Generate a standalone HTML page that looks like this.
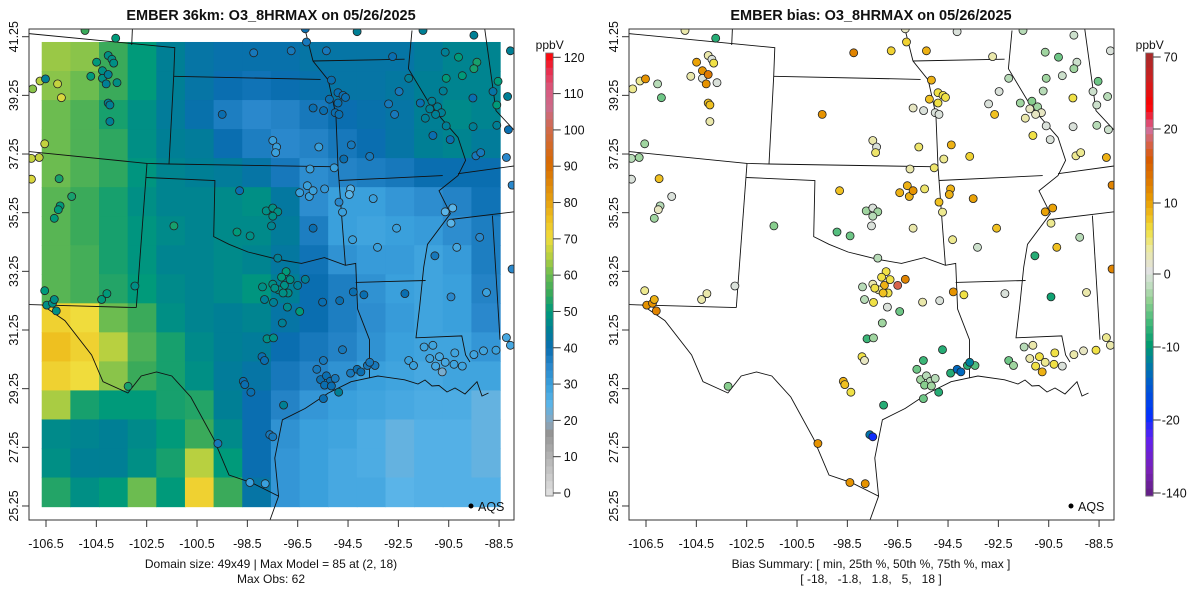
<!DOCTYPE html>
<html><head><meta charset="utf-8">
<style>
html,body{margin:0;padding:0;background:#fff;}
svg{display:block;font-family:"Liberation Sans",Arial,sans-serif;}
</style></head>
<body>
<svg id="chart" width="1200" height="600" viewBox="0 0 1200 600">
<defs>
<clipPath id="clipL"><rect x="29" y="29" width="485" height="491"/></clipPath>
<clipPath id="clipR"><rect x="629" y="29" width="485" height="491"/></clipPath>
</defs>
<g id="left"></g>
<g id="right"></g>
</svg>
<script>
// ---- data ----
const gridLonMin = -106.67, gridLonMax = -88.46, gridLatMin = 25.23, gridLatMax = 41.07;
const gridValues = [
[63,62,55,50,45,42,41,41,41,42,42,42,42,44,46,46],
[62,60,55,50,45,42,40,39,40,41,42,42,43,45,46,46],
[60,57,52,48,44,41,37,35,36,38,40,41,42,45,47,46],
[60,57,54,48,45,44,40,37,35,36,38,40,42,45,46,44],
[60,57,54,49,46,45,44,42,38,34,36,37,38,40,40,40],
[58,55,52,48,46,46,47,48,43,34,30,30,32,34,36,39],
[58,55,52,49,47,46,47,47,44,37,30,29,30,31,34,37],
[58,56,52,49,46,46,47,46,43,39,33,31,31,29,31,37],
[58,56,53,50,47,46,47,49,45,40,37,33,30,29,30,36],
[72,70,60,55,48,46,45,46,42,40,37,34,31,29,30,35],
[75,72,65,57,52,47,45,44,40,38,36,33,30,29,29,32],
[72,70,62,55,52,48,44,42,38,36,33,30,29,28,29,29],
[64,52,50,50,52,53,45,40,36,32,30,29,28,27,27,24],
[47,46,45,47,50,55,47,40,33,30,29,27,24,26,26,24],
[48,45,45,48,52,65,50,40,32,30,28,27,24,26,26,24],
[53,48,50,60,50,72,55,42,32,30,28,28,25,26,26,26]
];
const stationLon = [-104.95,-103.73,-96.20,-94.14,-91.52,-89.50,-98.25,-96.76,-96.15,-95.36,-92.73,-90.64,-90.11,-89.38,-89.50,-90.60,-89.96,-92.09,-88.54,-88.74,-90.72,-89.54,-88.59,-88.16,-92.47,-92.89,-92.65,-91.63,-91.17,-90.94,-90.79,-91.25,-91.02,-91.43,-91.13,-90.60,-90.44,-89.53,-88.59,-88.13,-88.05,-88.21,-87.98,-87.98,-89.42,-89.23,-88.21,-88.05,-91.48,-91.13,-91.25,-90.87,-90.64,-91.02,-90.26,-90.29,-89.96,-89.50,-89.12,-88.62,-90.76,-92.09,-91.90,-90.41,-89.00,-90.18,-89.27,-91.05,-90.64,-90.34,-90.41,-92.57,-93.33,-94.32,-93.50,-94.40,-94.45,-94.72,-94.86,-97.49,-97.34,-97.38,-95.66,-94.37,-93.64,-94.67,-95.05,-96.01,-95.43,-96.12,-96.04,-95.89,-96.42,-98.81,-99.50,-95.16,-94.90,-94.70,-94.60,-94.90,-95.24,-95.01,-94.86,-95.89,-95.47,-97.75,-97.49,-97.29,-97.49,-97.54,-98.91,-98.39,-95.89,-97.29,-96.96,-97.14,-96.80,-97.03,-97.26,-97.49,-97.90,-96.20,-96.50,-96.88,-97.08,-97.41,-97.82,-97.46,-96.91,-96.42,-97.11,-97.72,-97.46,-97.92,-97.82,-95.51,-94.83,-94.29,-93.87,-92.24,-94.72,-95.48,-95.74,-95.59,-95.36,-95.21,-95.01,-95.43,-95.16,-94.87,-95.48,-94.40,-94.14,-93.99,-93.73,-93.43,-93.64,-97.06,-98.66,-98.60,-98.36,-97.61,-97.49,-99.67,-98.40,-97.79,-103.24,-102.97,-104.29,-104.08,-106.55,-106.47,-106.24,-106.17,-106.09,-101.42,-105.48,-105.94,-106.01,-106.17,-105.98,-107.08,-107.08,-106.77,-106.55,-107.03,-106.74,-106.52,-106.04,-105.89,-104.49,-104.72,-104.26,-104.26,-104.03,-104.11,-103.68,-104.03,-103.88,-103.81,-104.03,-103.96,-103.96];
const stationLat = [41.46,41.20,41.52,41.42,41.46,41.30,40.70,40.77,41.07,40.77,40.57,40.72,40.55,40.38,40.16,39.83,39.92,39.83,39.73,39.38,39.40,39.16,38.92,39.21,39.38,38.96,38.60,38.99,39.05,38.86,38.66,38.79,38.60,38.47,37.88,38.21,37.74,38.18,38.23,38.08,40.77,37.13,36.19,33.33,37.19,37.30,30.99,30.73,30.67,30.73,30.28,30.34,30.15,30.02,30.47,30.08,30.02,30.41,30.54,30.56,29.82,30.21,30.04,32.38,32.53,34.07,34.41,33.78,35.28,35.41,34.89,34.72,34.07,34.33,35.73,36.06,35.87,35.27,35.61,37.71,37.49,37.30,37.49,37.56,37.17,37.08,36.78,36.74,36.06,36.17,35.80,36.00,35.93,36.00,38.60,39.77,39.34,39.25,39.18,38.99,39.12,38.66,38.60,38.82,38.73,35.31,35.41,35.28,35.13,34.80,34.59,34.46,34.72,33.70,33.24,33.05,32.97,32.77,32.62,32.81,32.72,32.98,32.77,32.51,32.51,32.68,32.29,32.19,32.03,31.88,31.49,30.95,30.98,30.34,30.21,32.20,32.25,32.55,32.45,32.49,30.58,30.21,29.91,29.56,29.69,29.50,29.60,29.37,29.34,29.13,28.91,29.78,29.91,29.82,30.04,30.04,30.15,28.69,29.50,29.39,29.13,27.68,27.61,27.38,26.05,26.01,29.33,32.75,32.29,32.49,32.59,32.10,32.16,32.29,31.90,34.80,35.80,35.48,35.35,35.06,36.41,36.39,37.10,37.13,37.60,39.47,39.74,39.81,39.64,39.17,40.38,39.90,40.09,39.83,39.96,39.64,39.68,40.61,40.48,40.35,38.99,38.92,38.36];
const stationObs = [55,50,40,45,45,45,38,38,38,38,40,45,50,52,52,50,50,45,50,42,45,40,50,45,38,38,38,40,45,45,45,45,45,45,40,45,40,45,45,40,45,35,35,35,38,38,28,28,29,29,29,28,28,28,29,29,29,29,29,30,22,30,30,35,30,28,35,38,25,25,25,30,30,30,30,25,25,30,35,30,30,30,30,38,38,40,30,30,32,30,30,30,30,40,40,40,40,40,40,40,40,40,40,40,40,48,48,48,48,46,50,48,40,45,50,50,48,48,48,48,48,45,45,48,48,48,45,45,47,50,45,48,48,40,40,40,40,40,40,40,38,38,38,40,40,40,38,40,40,45,40,38,40,40,38,38,38,45,40,40,40,38,38,38,30,30,52,48,50,50,50,48,48,48,48,52,52,50,50,50,52,68,66,66,66,62,65,45,66,68,50,50,48,48,45,45,48,48,48,48,45,45,45];
const stationBias = [3,-8,2,0,-2,-1,12,7,7,9,3,-3,-5,-1,-3,-3,-1,-2,-5,-1,-2,6,-1,-2,0,0,8,-3,-4,-3,2,2,2,3,6,0,0,0,-2,-1,0,9,12,12,4,4,4,3,-2,3,3,6,4,6,6,6,0,3,2,6,9,-5,-3,-9,3,8,-2,-8,10,10,4,8,-1,4,10,9,9,4,8,3,0,5,5,9,7,4,5,3,5,9,9,11,9,8,11,9,6,6,6,6,8,0,0,2,0,-3,0,-3,-2,0,-6,-5,3,-2,6,6,6,9,3,3,-2,12,18,6,8,6,-2,6,0,-5,-3,-7,-3,6,2,3,0,11,6,0,-8,-7,-5,-3,-2,-2,-2,-4,-3,-8,-5,-8,-14,-14,-8,-6,-12,-8,9,8,6,-13,-20,11,11,11,-4,0,3,3,4,11,11,9,12,-4,0,-2,2,-3,8,0,-2,-3,-3,4,4,11,-2,-5,10,3,11,0,13,11,0,3,0,6,8,8,3];
const xTickLabels = ["-106.5","-104.5","-102.5","-100.5","-98.5","-96.5","-94.5","-92.5","-90.5","-88.5"];
const xTickValues = [-106.5,-104.5,-102.5,-100.5,-98.5,-96.5,-94.5,-92.5,-90.5,-88.5];
const yTickValues = [41.25,39.25,37.25,35.25,33.25,31.25,29.25,27.25,25.25];
const yTickLabels = ["41.25","39.25","37.25","35.25","33.25","31.25","29.25","27.25","25.25"];
const obsBarTicks = [0,10,20,30,40,50,60,70,80,90,100,110,120];
const biasBarTicks = [70,20,10,0,-10,-20,-140];

// ---- scales ----
function xS(lon){return 46 + (lon+106.5)*25.17;}
function yS(lat){return 36.7 + (41.25-lat)*29.33;}
const obsStops=[[0,'#e2e2e2'],[10,'#b6b6b6'],[17,'#949494'],[20,'#8aa8c0'],[25,'#5ab4e8'],[30,'#3aa0dc'],[35,'#2a88cc'],[40,'#0a6eb0'],[45,'#007f95'],[50,'#009a7a'],[55,'#3aaa5a'],[60,'#6cbc50'],[65,'#b8d040'],[70,'#f0dc3c'],[75,'#eec020'],[80,'#e6a010'],[90,'#d86a00'],[100,'#d06a50'],[105,'#cc6a88'],[110,'#d85a80'],[115,'#e83050'],[120,'#ff0000']];
const biasStops=[[0,'#a52a2a'],[0.06,'#cc2020'],[0.12,'#ff0000'],[0.15,'#e83050'],[0.17,'#d070a0'],[0.21,'#d86040'],[0.24,'#d85a00'],[0.30,'#e08000'],[0.33,'#e89a00'],[0.37,'#f0c020'],[0.40,'#f0e040'],[0.44,'#ecea9c'],[0.49,'#e2e2e2'],[0.52,'#c8e0c8'],[0.56,'#90d090'],[0.61,'#40b878'],[0.66,'#009a70'],[0.70,'#007ea0'],[0.74,'#0060c8'],[0.82,'#0030ff'],[0.87,'#6020f0'],[0.94,'#7a20b8'],[1,'#602080']];
function hex(c){return [parseInt(c.substr(1,2),16),parseInt(c.substr(3,2),16),parseInt(c.substr(5,2),16)];}
function interp(stops,v){
  if(v<=stops[0][0])return stops[0][1];
  for(let i=1;i<stops.length;i++){if(v<=stops[i][0]){const a=stops[i-1],b=stops[i];const t=(v-a[0])/(b[0]-a[0]);const ca=hex(a[1]),cb=hex(b[1]);return 'rgb('+ca.map((c,k)=>Math.round(c+(cb[k]-c)*t)).join(',')+')';}}
  return stops[stops.length-1][1];
}
function obsColor(v){return interp(obsStops,v);}
const biasTickPos=[57,129,203,274,347,420,493];
function biasPos(b){
  for(let i=1;i<biasBarTicks.length;i++){if(b>=biasBarTicks[i]){const t=(biasBarTicks[i-1]-b)/(biasBarTicks[i-1]-biasBarTicks[i]);return biasTickPos[i-1]+t*(biasTickPos[i]-biasTickPos[i-1]);}}
  return 493;
}
function biasColor(b){const p=biasPos(Math.max(-140,Math.min(70,b)));return interp(biasStops,(p-53)/(496-53));}

const NS='http://www.w3.org/2000/svg';
function mk(parent,tag,attrs,text){const e=document.createElementNS(NS,tag);for(const k in attrs)e.setAttribute(k,attrs[k]);if(text!==undefined)e.textContent=text;parent.appendChild(e);return e;}

// basemap state boundaries (left-panel pixel geometry)
const borders=[
"M28.6,33.6 L174.8,47.7 L173.7,76.3 L169,164","M173.7,76.3 L320.6,79.4","M132.4,28.6 L131.7,45",
"M28.6,151.5 L147,163.4 L169,164 L338,166.8","M147,163.4 L136.3,307.6","M146.2,177.5 L214.9,180.5 L213.7,236.6 L229,244.3 L248,252 L278.6,259.5 L301.5,263.4 L324.4,257.6 L345.4,265.3 L355.7,263.4 L357.6,309 L369.5,339.7 L369.5,377.9",
"M28.6,304.6 L136.3,307.6",
"M42,305 L64.9,320.6 L91.6,355 L103,381.7 L127.9,393 L141.2,376 L156.5,372 L171.8,376 L190.8,397 L213.7,438.9 L229,475 L251.9,482.8 L271,492.4 L278.6,496.2",
"M270,520 L278.6,496.2 L274.8,458 L282.4,419.8 L305.3,408.4 L328.2,393.1 L351.1,381.7 L377.9,376 L404.6,379.8 L418,384 L425,380 L432,386 L439,385.5 L447,392 L455,388 L465,394 L477,381.7 L482,396 L488.5,393",
"M338,166.8 L345.4,265.3","M305.3,30.5 L313,61 L328.2,80 L335.9,114.5 L338,166.8",
"M355.7,282.4 L425.6,280.5",
"M412,30.5 L408.4,68.7 L431.3,106.9 L458,137.4 L465.6,160.3 L458,175.6 L439,190.8 L450.4,213.7 L427.5,244.3 L423.7,267.2 L419.8,305.3 L416,337.8 L461.8,335.9 L465.6,355 L470,362",
"M339,180.5 L442.7,175.6","M313,61 L404.6,59.2",
"M492.4,215.6 L500,339.7","M450.4,219.5 L514,211.8","M458,173.7 L514,166","M484.7,28.6 L496,110.7 L514,130"
];

function panel(gId,off,isBias){
  const g=document.getElementById(gId);
  const clip=mk(g,'g',{'clip-path':'url(#clip'+(isBias?'R':'L')+')'});
  if(!isBias){
    const rows=gridValues.length, cols=gridValues[0].length;
    const x0=xS(gridLonMin),x1=xS(gridLonMax),y0=yS(gridLatMax),y1=yS(gridLatMin);
    const cw=(x1-x0)/cols, ch=(y1-y0)/rows;
    const rg=mk(clip,'g',{});
    
    
    for(let r=0;r<rows;r++)for(let c=0;c<cols;c++){
      const cell=mk(rg,'rect',{x:(x0+c*cw).toFixed(2),y:(y0+r*ch).toFixed(2),width:(cw+0.6).toFixed(2),height:(ch+0.6).toFixed(2),fill:obsColor(gridValues[r][c])});
      
      
    }
  }
  const bg=mk(clip,'g',{transform:'translate('+off+',0)',fill:'none',stroke:'#111','stroke-width':'0.9'});
  
  
  borders.forEach(d=>mk(bg,'path',{d:d}));
  const sg=mk(clip,'g',{});
  
  
  for(let i=0;i<stationLon.length;i++){
    const c=mk(sg,'circle',{cx:(xS(stationLon[i])+off).toFixed(1),cy:yS(stationLat[i]).toFixed(1),r:4,fill:isBias?biasColor(stationBias[i]):obsColor(stationObs[i]),stroke:'#222','stroke-width':'0.8'});
    
    
  }
  const box=mk(g,'rect',{x:29+off,y:29,width:485,height:491,fill:'none',stroke:'#333','stroke-width':'1'});
  
  
  const xa=mk(g,'g',{});
  
  
  xTickValues.forEach((v,i)=>{const x=xS(v)+off;mk(xa,'line',{x1:x,x2:x,y1:520,y2:527,stroke:'#333'});
    const t=mk(xa,'text',{x:x,y:548,'text-anchor':'middle','font-size':'12.5',fill:'#111'},xTickLabels[i]);
    
    });
  const ya=mk(g,'g',{});
  
  
  yTickValues.forEach((v,i)=>{const y=yS(v);mk(ya,'line',{x1:22+off,x2:29+off,y1:y,y2:y,stroke:'#333'});
    const t=mk(ya,'text',{x:0,y:0,transform:'translate('+(18+off)+','+y+') rotate(-90)','text-anchor':'middle','font-size':'12.5',fill:'#111'},yTickLabels[i]);
    
    });
  const lg=mk(g,'g',{});
  
  
  mk(lg,'circle',{cx:471+off,cy:506,r:2.5,fill:'#000'});
  mk(lg,'text',{x:478+off,y:511,'font-size':'12.5',fill:'#111'},'AQS');
  const cb=mk(g,'g',{});
  
  
  const cx=545.7+off, top=53, bot=496, n=60;
  for(let k=0;k<n;k++){
    const y=top+(bot-top)*k/n, f=(k+0.5)/n;
    const col=isBias?interp(biasStops,f):obsColor(120*(1-f));
    mk(cb,'rect',{x:cx,y:y.toFixed(2),width:7.5,height:((bot-top)/n+0.5).toFixed(2),fill:col});
  }
  mk(cb,'rect',{x:cx,y:top,width:7.5,height:bot-top,fill:'none',stroke:'#777','stroke-width':'0.8'});
  mk(cb,'text',{x:cx+4,y:49,'text-anchor':'middle','font-size':'12',fill:'#111'},'ppbV');
  const ticks=isBias?biasBarTicks:obsBarTicks;
  ticks.forEach((v,i)=>{const y=isBias?biasTickPos[i]:(493-v*(493-57.3)/120);
    mk(cb,'line',{x1:cx+7.5,x2:cx+15,y1:y,y2:y,stroke:'#333'});
    const t=mk(cb,'text',{x:cx+(isBias&&v<0?16:18),y:y+4.5,'font-size':'12.5',fill:'#111'},String(v));
    
    });
}
panel('left',0,false);
panel('right',600,true);

const svg=document.getElementById('chart');
const titles=[[271,'EMBER 36km: O3_8HRMAX on 05/26/2025','left-title'],[871,'EMBER bias: O3_8HRMAX on 05/26/2025','right-title']];
titles.forEach(t=>{const e=mk(svg,'text',{x:t[0],y:20,'text-anchor':'middle','font-size':'14.5','font-weight':'bold',fill:'#111'},t[1]);
  
  });
const foot=[[271,568,'Domain size: 49x49 | Max Model = 85 at (2, 18)','domain-summary'],[271,583,'Max Obs: 62','max-obs-note'],[871,568,'Bias Summary: [ min, 25th %, 50th %, 75th %, max ]','bias-summary-label'],[871,583,'[ -18,   -1.8,   1.8,   5,   18 ]','bias-summary-values']];
foot.forEach(t=>{const e=mk(svg,'text',{x:t[0],y:t[1],'text-anchor':'middle','font-size':'12',fill:'#111','xml:space':'preserve'},t[2]);
  e.setAttribute('style','white-space:pre');
  
  });
</script>
</body></html>
